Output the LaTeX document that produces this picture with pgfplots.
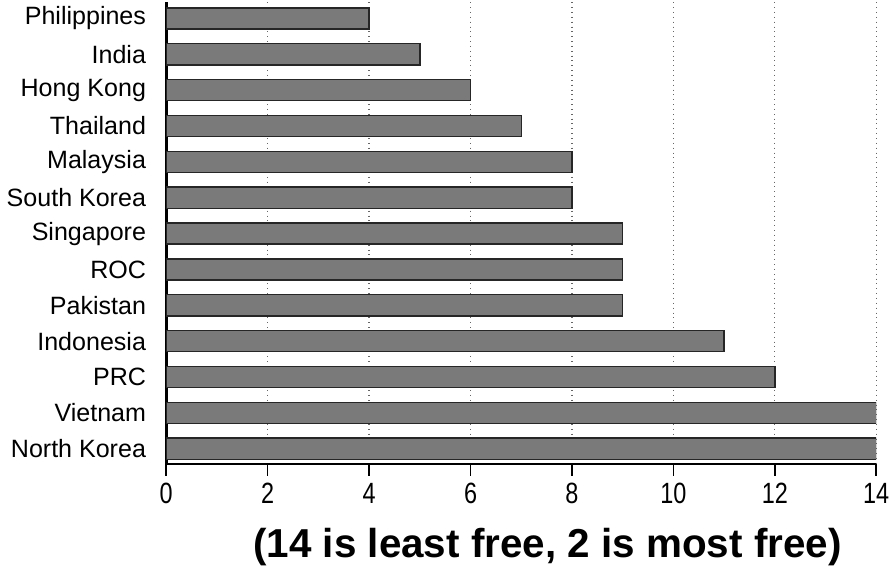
\documentclass[border=0pt]{standalone}
\usepackage{pgfplots}
\pgfplotsset{compat=1.18}
\usepackage{fontspec}
\setmainfont{Liberation Sans}
\newfontfamily\narrowfont[FakeStretch=0.8]{Liberation Sans}
\definecolor{barfill}{RGB}{122,122,122}
\begin{document}
\begin{tikzpicture}
\begin{axis}[
  scale only axis,
  width=351.5pt, height=228.5pt,
  xbar, bar width=10.5pt,
  xmin=0, xmax=14,
  ymin=-0.45, ymax=12.42,
  y dir=reverse,
  axis x line*=bottom,
  axis y line*=left,
  x axis line style={line width=1pt, -},
  y axis line style={line width=1.5pt, -},
  xtick={0,2,...,14},
  ytick={0,...,12},
  yticklabels={Philippines,India,Hong Kong,Thailand,Malaysia,South Korea,Singapore,ROC,Pakistan,Indonesia,PRC,Vietnam,North Korea},
  ytick style={draw=none},
  xtick style={draw=black, line width=0.8pt},
  major tick length=6pt,
  tick align=outside,
  xmajorgrids,
  major x grid style={dotted, gray!80!black, line width=0.6pt},
  yticklabel style={font=\fontsize{12.4}{14}\selectfont, xshift=-0.5pt},
  xticklabel style={font=\narrowfont\fontsize{14.5}{16}\selectfont},
  /pgf/number format/assume math mode=true,
  xlabel={(14 is least free, 2 is most free)},
  xlabel style={font=\bfseries\fontsize{20}{23}\selectfont, yshift=-5pt, xshift=13pt},
]
\addplot[fill=barfill, draw=black!85, line width=0.7pt] coordinates {
(4,0) (5,1) (6,2) (7,3) (8,4) (8,5) (9,6) (9,7) (9,8) (11,9) (12,10) (14,11) (14,12)
};
\end{axis}
\end{tikzpicture}
\end{document}
